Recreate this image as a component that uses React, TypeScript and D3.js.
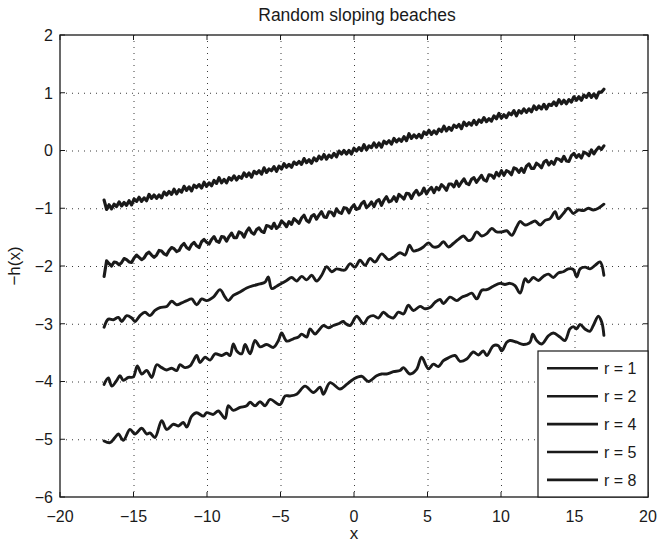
import React from 'react';
import * as d3 from 'd3';

const W = 658;
const H = 544;
const PLOT = { left: 60, right: 648, top: 35, bottom: 497 };

const xTicks = [-20, -15, -10, -5, 0, 5, 10, 15, 20];
const yTicks = [2, 1, 0, -1, -2, -3, -4, -5, -6];
const legendLabels = ['r = 1', 'r = 2', 'r = 4', 'r = 5', 'r = 8'];
const titleText = 'Random sloping beaches';
const xLabelText = 'x';
const yLabelText = '\u2212h(x)';

// r = 1 and r = 2 are sampled on a fine grid starting at x = -17, step 0.17
const fineStart = -17;
const fineStep = 0.17;

const r1Values = [
  -0.86, -1.02, -0.94, -1.01, -0.93, -0.97, -0.89, -0.96, -0.90, -0.95,
  -0.87, -0.94, -0.84, -0.88, -0.81, -0.88, -0.82, -0.87, -0.76, -0.83,
  -0.77, -0.83, -0.77, -0.82, -0.72, -0.77, -0.71, -0.76, -0.67, -0.75,
  -0.68, -0.72, -0.62, -0.69, -0.63, -0.70, -0.60, -0.64, -0.59, -0.65,
  -0.55, -0.62, -0.56, -0.61, -0.52, -0.57, -0.47, -0.56, -0.50, -0.56,
  -0.47, -0.51, -0.44, -0.51, -0.45, -0.48, -0.39, -0.45, -0.39, -0.46,
  -0.36, -0.40, -0.35, -0.41, -0.30, -0.38, -0.32, -0.35, -0.28, -0.36,
  -0.27, -0.32, -0.23, -0.29, -0.24, -0.29, -0.20, -0.24, -0.19, -0.24,
  -0.14, -0.21, -0.16, -0.22, -0.13, -0.18, -0.10, -0.15, -0.07, -0.15,
  -0.08, -0.12, -0.05, -0.11, -0.01, -0.06, 0.00, -0.06, 0.00, -0.06,
  0.04, -0.01, 0.05, 0.00, 0.10, 0.01, 0.08, 0.05, 0.13, 0.06,
  0.13, 0.06, 0.16, 0.12, 0.17, 0.11, 0.21, 0.15, 0.20, 0.16,
  0.24, 0.17, 0.29, 0.21, 0.27, 0.22, 0.28, 0.22, 0.32, 0.28,
  0.35, 0.28, 0.34, 0.29, 0.37, 0.33, 0.42, 0.34, 0.40, 0.35,
  0.44, 0.40, 0.45, 0.38, 0.49, 0.43, 0.48, 0.44, 0.52, 0.45,
  0.53, 0.49, 0.57, 0.50, 0.55, 0.51, 0.60, 0.55, 0.64, 0.56,
  0.62, 0.57, 0.65, 0.62, 0.69, 0.60, 0.69, 0.65, 0.72, 0.66,
  0.72, 0.67, 0.77, 0.71, 0.77, 0.72, 0.80, 0.72, 0.80, 0.78,
  0.84, 0.78, 0.88, 0.81, 0.87, 0.81, 0.88, 0.84, 0.93, 0.87,
  0.93, 0.87, 0.96, 0.92, 0.99, 0.92, 0.98, 0.91, 1.01, 1.01,
  1.06,
];

const r2Values = [
  -2.18, -1.91, -1.96, -2.00, -1.93, -1.94, -1.98, -1.94, -1.87, -1.89,
  -1.93, -1.94, -1.86, -1.81, -1.85, -1.89, -1.86, -1.79, -1.76, -1.81,
  -1.85, -1.81, -1.73, -1.74, -1.79, -1.81, -1.73, -1.68, -1.70, -1.75,
  -1.73, -1.65, -1.61, -1.68, -1.71, -1.63, -1.59, -1.65, -1.68, -1.58,
  -1.54, -1.59, -1.62, -1.54, -1.49, -1.57, -1.59, -1.49, -1.50, -1.57,
  -1.49, -1.43, -1.51, -1.51, -1.41, -1.43, -1.50, -1.40, -1.34, -1.42,
  -1.45, -1.37, -1.34, -1.40, -1.42, -1.30, -1.31, -1.35, -1.26, -1.35,
  -1.31, -1.22, -1.26, -1.32, -1.23, -1.28, -1.18, -1.22, -1.26, -1.17,
  -1.12, -1.21, -1.24, -1.14, -1.11, -1.19, -1.12, -1.06, -1.15, -1.16,
  -1.06, -1.07, -1.13, -1.01, -1.07, -1.09, -0.99, -1.00, -1.08, -0.99,
  -0.94, -1.02, -1.00, -0.92, -0.88, -0.99, -0.95, -0.89, -0.97, -0.88,
  -0.85, -0.95, -0.86, -0.80, -0.89, -0.87, -0.80, -0.88, -0.76, -0.80,
  -0.84, -0.74, -0.75, -0.83, -0.74, -0.69, -0.77, -0.74, -0.65, -0.75,
  -0.68, -0.64, -0.73, -0.64, -0.68, -0.59, -0.63, -0.69, -0.58, -0.58,
  -0.63, -0.53, -0.62, -0.55, -0.49, -0.57, -0.59, -0.50, -0.47, -0.55,
  -0.49, -0.43, -0.51, -0.53, -0.42, -0.43, -0.48, -0.38, -0.44, -0.35,
  -0.43, -0.35, -0.37, -0.42, -0.30, -0.32, -0.38, -0.31, -0.38, -0.27,
  -0.23, -0.31, -0.31, -0.22, -0.25, -0.30, -0.20, -0.17, -0.25, -0.19,
  -0.24, -0.14, -0.15, -0.19, -0.10, -0.18, -0.19, -0.09, -0.05, -0.12,
  -0.07, -0.13, -0.03, -0.05, -0.09, 0.01, -0.06, 0.01, 0.06, 0.02,
  0.08,
];

const r4Points: [number, number][] = [
  [-17, -3.06], [-16.71, -2.92], [-16.37, -2.93], [-16.03, -2.89], [-15.8, -2.96],
  [-15.46, -2.86], [-15.12, -2.9], [-14.9, -2.96], [-14.56, -2.86], [-14.22, -2.8],
  [-13.88, -2.86], [-13.54, -2.77], [-13.2, -2.72], [-12.74, -2.7], [-12.4, -2.61],
  [-12.06, -2.67], [-11.72, -2.64], [-11.38, -2.6], [-11.04, -2.57], [-10.7, -2.67],
  [-10.36, -2.57], [-10.02, -2.6], [-9.57, -2.54], [-9.11, -2.41], [-8.77, -2.54],
  [-8.55, -2.6], [-8.21, -2.51], [-7.75, -2.45], [-7.3, -2.38], [-6.85, -2.34],
  [-6.39, -2.31], [-6.05, -2.28], [-5.83, -2.19], [-5.6, -2.39], [-5.26, -2.35],
  [-4.92, -2.3], [-4.58, -2.25], [-4.24, -2.2], [-3.9, -2.26], [-3.56, -2.18],
  [-3.22, -2.24], [-2.88, -2.16], [-2.54, -2.26], [-2.2, -2.16], [-1.86, -2.01],
  [-1.52, -2.1], [-1.18, -2.05], [-0.84, -2.07], [-0.61, -2.07], [-0.27, -1.96],
  [0.07, -2.02], [0.41, -1.9], [0.75, -1.99], [1.09, -1.87], [1.43, -1.93],
  [1.88, -1.79], [2.34, -1.89], [2.68, -1.85], [3.13, -1.77], [3.47, -1.81],
  [3.77, -1.64], [4.04, -1.74], [4.38, -1.72], [4.72, -1.67], [5.06, -1.6],
  [5.4, -1.67], [5.74, -1.66], [6.08, -1.58], [6.42, -1.67], [6.76, -1.61],
  [7.1, -1.54], [7.44, -1.48], [7.78, -1.56], [8.01, -1.54], [8.35, -1.41],
  [8.69, -1.48], [9.03, -1.44], [9.37, -1.35], [9.71, -1.41], [10.05, -1.41],
  [10.39, -1.39], [10.73, -1.47], [11.07, -1.32], [11.3, -1.23], [11.64, -1.29],
  [11.98, -1.26], [12.32, -1.22], [12.66, -1.29], [13.0, -1.21], [13.34, -1.18],
  [13.68, -1.06], [13.9, -1.18], [14.24, -1.09], [14.58, -1.0], [14.92, -1.09],
  [15.26, -1.03], [15.6, -1.04], [15.94, -1.0], [16.28, -1.03], [16.62, -1.0],
  [17, -0.93],
];

const r5Points: [number, number][] = [
  [-17, -4.05], [-16.71, -3.94], [-16.48, -4.08], [-16.14, -3.98], [-15.92, -3.9],
  [-15.69, -3.98], [-15.35, -3.93], [-15.01, -3.92], [-14.74, -3.73], [-14.44, -3.87],
  [-14.1, -3.81], [-13.76, -3.93], [-13.42, -3.71], [-13.08, -3.76], [-12.74, -3.8],
  [-12.4, -3.77], [-12.06, -3.81], [-11.84, -3.71], [-11.5, -3.76], [-11.15, -3.73],
  [-10.93, -3.64], [-10.7, -3.55], [-10.47, -3.67], [-10.13, -3.58], [-9.79, -3.63],
  [-9.45, -3.52], [-9.0, -3.55], [-8.66, -3.51], [-8.43, -3.55], [-8.21, -3.35],
  [-7.98, -3.47], [-7.64, -3.52], [-7.41, -3.36], [-7.07, -3.52], [-6.73, -3.29],
  [-6.39, -3.4], [-5.94, -3.36], [-5.48, -3.41], [-5.14, -3.29], [-4.92, -3.16],
  [-4.58, -3.3], [-4.12, -3.26], [-3.78, -3.23], [-3.56, -3.18], [-3.22, -3.23],
  [-2.99, -3.09], [-2.65, -3.18], [-2.42, -3.12], [-2.08, -3.03], [-1.74, -3.07],
  [-1.4, -3.03], [-1.06, -3.0], [-0.72, -2.96], [-0.61, -2.99], [-0.27, -3.03],
  [0.18, -2.87], [0.64, -3.0], [0.98, -2.89], [1.32, -2.86], [1.66, -2.9],
  [2.0, -2.8], [2.34, -2.87], [2.68, -2.9], [3.02, -2.8], [3.36, -2.83],
  [3.7, -2.68], [4.04, -2.77], [4.49, -2.7], [4.83, -2.74], [5.17, -2.72],
  [5.51, -2.63], [5.85, -2.58], [6.08, -2.65], [6.53, -2.54], [6.99, -2.6],
  [7.33, -2.54], [7.67, -2.51], [8.01, -2.47], [8.35, -2.57], [8.69, -2.42],
  [9.03, -2.41], [9.48, -2.35], [9.93, -2.3], [10.27, -2.32], [10.61, -2.3],
  [10.95, -2.34], [11.3, -2.47], [11.64, -2.22], [11.86, -2.28], [12.2, -2.2],
  [12.54, -2.25], [12.88, -2.18], [13.22, -2.14], [13.56, -2.2], [13.9, -2.12],
  [14.24, -2.1], [14.58, -2.05], [14.92, -2.06], [15.15, -2.19], [15.38, -2.05],
  [15.72, -2.02], [16.06, -2.05], [16.4, -1.99], [16.74, -1.93], [17, -2.16],
];

const r8Points: [number, number][] = [
  [-17, -5.03], [-16.6, -5.06], [-16.26, -4.97], [-16.03, -4.91], [-15.69, -5.02],
  [-15.24, -4.83], [-14.9, -4.91], [-14.44, -4.81], [-14.1, -4.91], [-13.88, -4.89],
  [-13.54, -4.97], [-13.08, -4.68], [-12.74, -4.83], [-12.29, -4.74], [-11.95, -4.77],
  [-11.61, -4.71], [-11.38, -4.79], [-11.04, -4.6], [-10.7, -4.54], [-10.25, -4.6],
  [-10.02, -4.54], [-9.57, -4.57], [-9.23, -4.51], [-8.77, -4.64], [-8.55, -4.42],
  [-8.21, -4.5], [-7.75, -4.45], [-7.3, -4.42], [-7.07, -4.36], [-6.73, -4.42],
  [-6.39, -4.35], [-6.05, -4.42], [-5.71, -4.31], [-5.03, -4.4], [-4.69, -4.25],
  [-4.35, -4.25], [-3.9, -4.22], [-3.33, -4.08], [-2.76, -4.19], [-2.31, -4.1],
  [-2.08, -4.22], [-1.63, -4.02], [-0.95, -4.13], [-0.5, -4.05], [-0.04, -3.96],
  [0.52, -3.91], [0.98, -4.0], [1.54, -3.9], [1.88, -3.87], [2.22, -3.87],
  [2.68, -3.83], [3.13, -3.81], [3.36, -3.76], [3.81, -3.87], [4.26, -3.79],
  [4.6, -3.58], [5.06, -3.78], [5.4, -3.7], [5.74, -3.74], [6.08, -3.64],
  [6.42, -3.59], [6.87, -3.55], [7.21, -3.65], [7.67, -3.61], [8.12, -3.49],
  [8.46, -3.54], [8.8, -3.47], [9.03, -3.55], [9.48, -3.38], [9.82, -3.38],
  [10.05, -3.47], [10.39, -3.32], [10.61, -3.29], [11.07, -3.32], [11.52, -3.36],
  [11.97, -3.32], [12.16, -3.18], [12.43, -3.29], [12.77, -3.35], [13.22, -3.21],
  [13.56, -3.16], [14.01, -3.23], [14.35, -3.29], [14.69, -3.09], [14.92, -3.05],
  [15.15, -3.09], [15.37, -3.01], [15.71, -3.09], [16.05, -3.13], [16.28, -3.03],
  [16.62, -2.87], [16.85, -2.97], [17, -3.2],
];

const FONT = '"Liberation Sans", Arial, Helvetica, sans-serif';
const INK = '#1a1a1a';

export default function App() {
  const x = d3.scaleLinear().domain([-20, 20]).range([PLOT.left, PLOT.right]);
  const y = d3.scaleLinear().domain([-6, 2]).range([PLOT.bottom, PLOT.top]);

  const r1Points: [number, number][] = r1Values.map((v, i) => [fineStart + i * fineStep, v]);
  const r2Points: [number, number][] = r2Values.map((v, i) => [fineStart + i * fineStep, v]);

  const linear = d3.line<[number, number]>().x((d) => x(d[0])).y((d) => y(d[1]));
  const smooth = d3
    .line<[number, number]>()
    .x((d) => x(d[0]))
    .y((d) => y(d[1]))
    .curve(d3.curveCatmullRom.alpha(0.5));

  const series = [
    { pts: r1Points, gen: linear, w: 3.2 },
    { pts: r2Points, gen: linear, w: 3.1 },
    { pts: r4Points, gen: smooth, w: 2.9 },
    { pts: r5Points, gen: smooth, w: 2.9 },
    { pts: r8Points, gen: smooth, w: 2.9 },
  ];

  const tickLen = 5;
  const fmt = (v: number) => (v < 0 ? '\u2212' + Math.abs(v) : String(v));

  const legend = { left: 538, top: 351, right: PLOT.right, bottom: PLOT.bottom };
  const legendRowY = (i: number) => 368.3 + i * 27.9;

  return (
    <svg
      width={W}
      height={H}
      style={{ position: 'absolute', left: 0, top: 0, background: '#fff' }}
      fontFamily={FONT}
    >
      <rect x={0} y={0} width={W} height={H} fill="#fff" />
      {/* grid */}
      <g stroke="#3a3a3a" strokeWidth={1} strokeDasharray="1,5">
        {xTicks.slice(1, -1).map((t) => (
          <line key={'gx' + t} x1={x(t) + 0.5} x2={x(t) + 0.5} y1={PLOT.top} y2={PLOT.bottom} />
        ))}
        {yTicks.slice(1, -1).map((t) => (
          <line key={'gy' + t} x1={PLOT.left} x2={PLOT.right} y1={y(t) + 0.5} y2={y(t) + 0.5} />
        ))}
      </g>
      {/* series */}
      <g fill="none" stroke={INK} strokeLinejoin="round" strokeLinecap="round">
        {series.map((s, i) => (
          <path key={'s' + i} d={s.gen(s.pts) || ''} strokeWidth={s.w} />
        ))}
      </g>
      {/* box */}
      <rect
        x={PLOT.left}
        y={PLOT.top}
        width={PLOT.right - PLOT.left}
        height={PLOT.bottom - PLOT.top}
        fill="none"
        stroke={INK}
        strokeWidth={1.3}
      />
      {/* ticks */}
      <g stroke={INK} strokeWidth={1}>
        {xTicks.map((t) => (
          <g key={'tx' + t}>
            <line x1={x(t)} x2={x(t)} y1={PLOT.bottom} y2={PLOT.bottom - tickLen} />
            <line x1={x(t)} x2={x(t)} y1={PLOT.top} y2={PLOT.top + tickLen} />
          </g>
        ))}
        {yTicks.map((t) => (
          <g key={'ty' + t}>
            <line x1={PLOT.left} x2={PLOT.left + tickLen} y1={y(t)} y2={y(t)} />
            <line x1={PLOT.right} x2={PLOT.right - tickLen} y1={y(t)} y2={y(t)} />
          </g>
        ))}
      </g>
      {/* tick labels */}
      <g fill={INK} fontSize={16}>
        {xTicks.map((t) => (
          <text key={'lx' + t} x={x(t)} y={PLOT.bottom + 25} textAnchor="middle">
            {fmt(t)}
          </text>
        ))}
        {yTicks.map((t) => (
          <text key={'ly' + t} x={PLOT.left - 7} y={y(t)} dy="0.36em" textAnchor="end">
            {fmt(t)}
          </text>
        ))}
      </g>
      {/* labels */}
      <text x={(PLOT.left + PLOT.right) / 2 + 3} y={21} textAnchor="middle" fontSize={17.5} fill={INK}>
        {titleText}
      </text>
      <text x={(PLOT.left + PLOT.right) / 2} y={539} textAnchor="middle" fontSize={17} fill={INK}>
        {xLabelText}
      </text>
      <text
        transform={`translate(20, ${(PLOT.top + PLOT.bottom) / 2}) rotate(-90)`}
        textAnchor="middle"
        fontSize={17}
        fill={INK}
      >
        {yLabelText}
      </text>
      {/* legend */}
      <rect
        x={legend.left}
        y={legend.top}
        width={legend.right - legend.left}
        height={legend.bottom - legend.top}
        fill="#fff"
        stroke={INK}
        strokeWidth={1.2}
      />
      {legendLabels.map((lab, i) => (
        <g key={'lg' + i}>
          <line x1={547} x2={598} y1={legendRowY(i)} y2={legendRowY(i)} stroke={INK} strokeWidth={2.6} />
          <text x={604} y={legendRowY(i)} dy="0.36em" fontSize={16} fill={INK}>
            {lab}
          </text>
        </g>
      ))}
    </svg>
  );
}
